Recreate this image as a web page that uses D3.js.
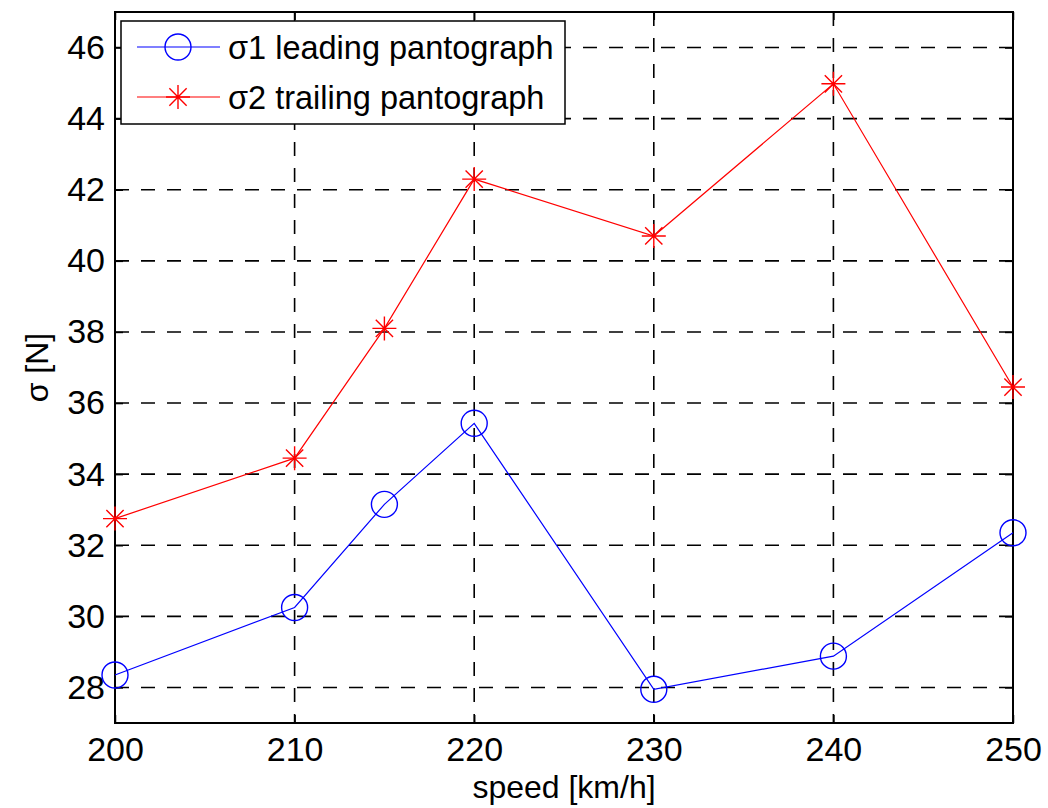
<!DOCTYPE html>
<html>
<head>
<meta charset="utf-8">
<script src="https://d3js.org/d3.v7.min.js"></script>
<style>
  body { margin: 0; background: #fff; }
  svg { font-family: "Liberation Sans", Arial, sans-serif; }
</style>
</head>
<body>
<div id="chart"></div>
<script>
// Données
const speeds = [200, 210, 215, 220, 230, 240, 250];
const sigmaLeading = [28.35, 30.25, 33.15, 35.43, 27.95, 28.88, 32.35];
const sigmaTrailing = [32.75, 34.45, 38.1, 42.3, 40.7, 44.98, 36.45];
const xTicks = [200, 210, 220, 230, 240, 250];
const yTicks = [28, 30, 32, 34, 36, 38, 40, 42, 44, 46];
const seriesNames = ["σ1 leading pantograph", "σ2 trailing pantograph"];

const width = 1048;
const height = 808;
const margin = { top: 12, right: 35, bottom: 85, left: 115 };

const svg = d3.select("#chart").append("svg")
  .attr("width", width)
  .attr("height", height);

const x = d3.scaleLinear().domain([200, 250]).range([margin.left, width - margin.right]);
const y = d3.scaleLinear().domain([27, 47]).range([height - margin.bottom, margin.top]);

const x0 = margin.left, x1 = width - margin.right;
const y0 = margin.top, y1 = height - margin.bottom;

// Grille en tirets
const grid = svg.append("g").attr("stroke", "#000").attr("stroke-width", 1.6)
  .attr("stroke-dasharray", "14,12");
grid.selectAll(".gx").data(xTicks.slice(1, -1)).join("line")
  .attr("x1", d => x(d)).attr("x2", d => x(d))
  .attr("y1", y0).attr("y2", y1);
grid.selectAll(".gy").data(yTicks).join("line")
  .attr("x1", x0).attr("x2", x1)
  .attr("y1", d => y(d)).attr("y2", d => y(d));

// Axes (ticks vers l'intérieur, style MATLAB)
const axisX = svg.append("g").attr("transform", `translate(0,${y1})`)
  .call(d3.axisBottom(x).tickValues(xTicks).tickSize(-8).tickPadding(14).tickFormat(d3.format("d")));
const axisXTop = svg.append("g").attr("transform", `translate(0,${y0})`)
  .call(d3.axisTop(x).tickValues(xTicks).tickSize(-8).tickFormat(""));
const axisY = svg.append("g").attr("transform", `translate(${x0},0)`)
  .call(d3.axisLeft(y).tickValues(yTicks).tickSize(-8).tickPadding(10).tickFormat(d3.format("d")));
const axisYRight = svg.append("g").attr("transform", `translate(${x1},0)`)
  .call(d3.axisRight(y).tickValues(yTicks).tickSize(-8).tickFormat(""));

[axisX, axisXTop, axisY, axisYRight].forEach(a => {
  a.select(".domain").remove();
  a.selectAll(".tick line").attr("stroke", "#000").attr("stroke-width", 1.5);
  a.selectAll("text").attr("font-size", 34).attr("fill", "#000")
    .attr("font-family", "Liberation Sans, Arial, sans-serif");
});

svg.append("rect")
  .attr("x", x0).attr("y", y0)
  .attr("width", x1 - x0).attr("height", y1 - y0)
  .attr("fill", "none").attr("stroke", "#000").attr("stroke-width", 2);

// Courbes
const line = d3.line().x((d, i) => x(speeds[i])).y(d => y(d));

svg.append("path").datum(sigmaLeading)
  .attr("d", line).attr("fill", "none").attr("stroke", "#0000ff").attr("stroke-width", 1.2);
svg.append("path").datum(sigmaTrailing)
  .attr("d", line).attr("fill", "none").attr("stroke", "#ff0000").attr("stroke-width", 1.2);

function drawCircle(g, cx, cy) {
  g.append("circle").attr("cx", cx).attr("cy", cy).attr("r", 13)
    .attr("fill", "none").attr("stroke", "#0000ff").attr("stroke-width", 1.4);
}
function drawStar(g, cx, cy) {
  const r = 12, rd = r * 0.72;
  const p = `M${cx - r},${cy}L${cx + r},${cy}M${cx},${cy - r}L${cx},${cy + r}` +
    `M${cx - rd},${cy - rd}L${cx + rd},${cy + rd}M${cx - rd},${cy + rd}L${cx + rd},${cy - rd}`;
  g.append("path").attr("d", p).attr("stroke", "#ff0000").attr("stroke-width", 1.4).attr("fill", "none");
}

const marks = svg.append("g");
sigmaLeading.forEach((v, i) => drawCircle(marks, x(speeds[i]), y(v)));
sigmaTrailing.forEach((v, i) => drawStar(marks, x(speeds[i]), y(v)));

// Légende
const lg = svg.append("g");
lg.append("rect").attr("x", 121).attr("y", 21).attr("width", 444).attr("height", 103)
  .attr("fill", "#fff").attr("stroke", "#000").attr("stroke-width", 1.5);
[0, 1].forEach(i => {
  const ly = 47 + i * 50;
  lg.append("line").attr("x1", 137).attr("x2", 220).attr("y1", ly).attr("y2", ly)
    .attr("stroke", i === 0 ? "#0000ff" : "#ff0000").attr("stroke-width", 1.2);
  if (i === 0) drawCircle(lg, 178, ly); else drawStar(lg, 178, ly);
  lg.append("text").attr("x", 228).attr("y", ly + 12)
    .attr("font-size", 32.5).attr("fill", "#000").text(seriesNames[i]);
});

// Titres des axes
svg.append("text").attr("x", (x0 + x1) / 2).attr("y", 798)
  .attr("text-anchor", "middle").attr("font-size", 32).text("speed [km/h]");
svg.append("text").attr("transform", `translate(48,${(y0 + y1) / 2}) rotate(-90)`)
  .attr("text-anchor", "middle").attr("font-size", 32).text("σ [N]");
</script>
</body>
</html>
